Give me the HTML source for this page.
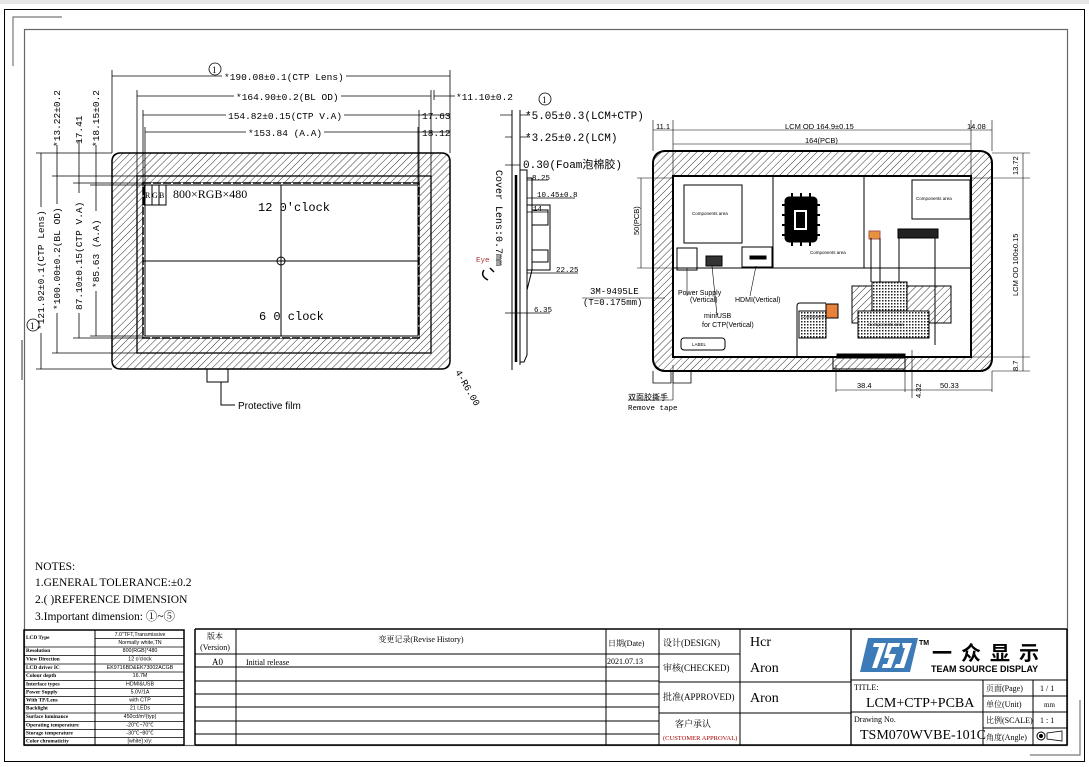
<!DOCTYPE html>
<html><head><meta charset="utf-8"><style>
body{margin:0;background:#fff;}
svg{display:block;font-family:"Liberation Mono","Noto Sans CJK SC",monospace;}
.s{font-family:"Liberation Serif","Noto Serif CJK SC",serif;}
.a{font-family:"Liberation Sans","Noto Sans CJK SC",sans-serif;}
</style></head><body>
<svg width="1089" height="767" viewBox="0 0 1089 767" xmlns="http://www.w3.org/2000/svg">
<defs>
<pattern id="h" width="5" height="5" patternUnits="userSpaceOnUse" patternTransform="rotate(45)"><line x1="0" y1="0" x2="0" y2="5" stroke="#333" stroke-width="1"/></pattern>
<pattern id="x" width="3" height="3" patternUnits="userSpaceOnUse"><rect width="3" height="3" fill="#fff"/><rect width="1.5" height="1.5" fill="#222"/></pattern>
</defs>
<rect x="0" y="0" width="1089" height="4" fill="#e6e6e6"/>
<rect x="4.5" y="9.5" width="1080" height="752" fill="none" stroke="#000" stroke-width="1"/>
<path d="M13 66V17H62" fill="none" stroke="#777" stroke-width="1.2"/>
<path d="M1080 700V755H1030" fill="none" stroke="#777" stroke-width="1.2"/>
<rect x="24.5" y="29.5" width="1043" height="716" fill="none" stroke="#666" stroke-width="1.2"/>

<!-- ===== Front view ===== -->
<g stroke="#000" fill="none" stroke-width="1">
<path fill-rule="evenodd" fill="url(#h)" d="M120 153H442Q450 153 450 161V361Q450 369 442 369H120Q112 369 112 361V161Q112 153 120 153Z M143 183H419V338H143Z"/>
<rect x="112" y="153" width="338" height="216" rx="8" stroke-width="1.5"/>
<rect x="137" y="176" width="294" height="177" stroke-width="1.3"/>
<rect x="143" y="183" width="276" height="155" fill="#fff" stroke-width="1.5" stroke-dasharray="8 2"/>
<rect x="145" y="185" width="273" height="151" stroke-width="1"/>
<line x1="281" y1="185" x2="281" y2="336"/><line x1="143" y1="261" x2="419" y2="261"/>
<circle cx="281" cy="261" r="4"/>
<rect x="144" y="185" width="8" height="20"/><rect x="152" y="185" width="7" height="20"/><rect x="159" y="185" width="7" height="20"/>
<path d="M207 369V382H228V369"/><path d="M221 382V405H235"/>
<g stroke-width="0.8">
<line x1="112" y1="70" x2="112" y2="153"/><line x1="450" y1="70" x2="450" y2="153"/>
<line x1="112" y1="76" x2="222" y2="76"/><line x1="346" y1="76" x2="450" y2="76"/>
<line x1="137" y1="90" x2="137" y2="176"/><line x1="431" y1="90" x2="431" y2="176"/><line x1="434" y1="90" x2="434" y2="100"/>
<line x1="137" y1="96" x2="234" y2="96"/><line x1="341" y1="96" x2="431" y2="96"/><line x1="434" y1="96" x2="455" y2="96"/>
<line x1="143" y1="110" x2="143" y2="183"/><line x1="419" y1="110" x2="419" y2="183"/>
<line x1="143" y1="115" x2="226" y2="115"/><line x1="344" y1="115" x2="419" y2="115"/><line x1="419" y1="115" x2="450" y2="115"/>
<line x1="145" y1="127" x2="145" y2="185"/><line x1="418" y1="127" x2="418" y2="185"/>
<line x1="145" y1="132" x2="246" y2="132"/><line x1="324" y1="132" x2="418" y2="132"/><line x1="418" y1="132" x2="450" y2="132"/>
<line x1="36" y1="153" x2="112" y2="153"/><line x1="36" y1="369" x2="112" y2="369"/>
<line x1="52" y1="176" x2="137" y2="176"/><line x1="52" y1="353" x2="137" y2="353"/>
<line x1="73" y1="183" x2="143" y2="183"/><line x1="73" y1="338" x2="143" y2="338"/>
<line x1="90" y1="185" x2="145" y2="185"/><line x1="90" y1="336" x2="145" y2="336"/>
<line x1="41" y1="153" x2="41" y2="207"/><line x1="41" y1="333" x2="41" y2="369"/>
<line x1="57" y1="145" x2="57" y2="204"/><line x1="57" y1="313" x2="57" y2="353"/>
<line x1="79" y1="140" x2="79" y2="193"/><line x1="79" y1="313" x2="79" y2="338"/>
<line x1="96" y1="145" x2="96" y2="211"/><line x1="96" y1="291" x2="96" y2="336"/>
<line x1="22" y1="340" x2="22" y2="380"/>
</g>
</g>
<circle cx="215" cy="69" r="6" fill="none" stroke="#000" stroke-width="0.8"/><text x="212" y="73" font-size="9" class="s">1</text>
<circle cx="33" cy="325" r="6" fill="none" stroke="#000" stroke-width="0.8"/><text x="30" y="329" font-size="9" class="s">1</text>
<g font-size="9.5" fill="#000">
<text x="224" y="80">*190.08±0.1(CTP Lens)</text>
<text x="236" y="100">*164.90±0.2(BL OD)</text>
<text x="228" y="119">154.82±0.15(CTP V.A)</text>
<text x="248" y="136">*153.84 (A.A)</text>
<text x="456" y="100">*11.10±0.2</text>
<text x="422" y="119">17.63</text>
<text x="422" y="136">18.12</text>
<text transform="translate(44,330) rotate(-90)">*121.92±0.1(CTP Lens)</text>
<text transform="translate(60,310) rotate(-90)">*100.00±0.2(BL OD)</text>
<text transform="translate(82,310) rotate(-90)">87.10±0.15(CTP V.A)</text>
<text transform="translate(99,288) rotate(-90)">*85.63 (A.A)</text>
<text transform="translate(60,147) rotate(-90)">*13.22±0.2</text>
<text transform="translate(82,144) rotate(-90)">17.41</text>
<text transform="translate(99,147) rotate(-90)">*18.15±0.2</text>
<text transform="translate(455,372) rotate(60)">4-R6.00</text>
</g>
<g font-size="8" class="s"><text x="145" y="198">R</text><text x="152" y="198">G</text><text x="159" y="198">B</text></g>
<text x="173" y="198" font-size="12" class="s">800×RGB×480</text>
<text x="258" y="211" font-size="12">12 0'clock</text>
<text x="259" y="320" font-size="12">6 0 clock</text>
<text x="238" y="409" font-size="10" class="a">Protective film</text>

<!-- ===== Side view ===== -->
<g stroke="#000" fill="none" stroke-width="1">
<line x1="512" y1="110" x2="512" y2="370"/>
<line x1="520" y1="110" x2="520" y2="365"/>
<line x1="516" y1="175" x2="516" y2="362" stroke-width="2.5"/>
<path d="M520 170H527V355L524 362H520"/>
<path d="M527 178H532V270L527 290"/>
<path d="M527 205H550V270H527"/>
<path d="M532 210H548V225H532"/>
<path d="M532 250H548V262H532"/>
<g stroke-width="0.7">
<line x1="500" y1="115" x2="512" y2="115"/><line x1="520" y1="115" x2="530" y2="115"/>
<line x1="505" y1="137" x2="512" y2="137"/><line x1="520" y1="137" x2="530" y2="137"/>
<line x1="505" y1="165" x2="520" y2="165"/>
<line x1="527" y1="180" x2="548" y2="180"/>
<line x1="527" y1="198" x2="575" y2="198"/>
<line x1="527" y1="212" x2="548" y2="212"/>
<line x1="527" y1="273" x2="578" y2="273"/>
<line x1="505" y1="313" x2="550" y2="313"/>
</g>
</g>
<circle cx="545" cy="99" r="6" fill="none" stroke="#000" stroke-width="0.8"/><text x="542" y="103" font-size="9" class="s">1</text>
<g font-size="11">
<text x="525" y="119">*5.05±0.3(LCM+CTP)</text>
<text x="525" y="141">*3.25±0.2(LCM)</text>
<text x="523" y="168">0.30(Foam泡棉胶)</text>
</g>
<g font-size="7.5">
<text x="532" y="180">8.25</text><text x="537" y="197">10.45±0.8</text><text x="533" y="211">14</text>
<text x="556" y="272">22.25</text><text x="534" y="312">6.35</text>
<text x="476" y="262" fill="#a33">Eye</text>
</g>
<text transform="translate(496,170) rotate(90)" font-size="10">Cover Lens:0.7mm</text>
<path d="M484 270q-4 6 4 10M490 268l4 4" stroke="#000" fill="none" stroke-width="1.5"/>

<!-- ===== Back view ===== -->
<g stroke="#000" fill="none" stroke-width="1">
<path fill-rule="evenodd" fill="url(#h)" d="M665 151H980Q992 151 992 163V359Q992 371 980 371H665Q653 371 653 359V163Q653 151 665 151Z M673 176H971V357H673Z"/>
<rect x="653" y="151" width="339" height="220" rx="12" stroke-width="2"/>
<rect x="673" y="176" width="298" height="181" stroke-width="2"/>
<line x1="673" y1="268" x2="971" y2="268"/>
<line x1="773" y1="176" x2="773" y2="268"/><line x1="864" y1="176" x2="864" y2="268"/>
<rect x="684" y="185" width="58" height="58"/>
<rect x="912" y="180" width="58" height="39"/>
<rect x="785" y="197" width="32" height="45" rx="4" fill="#000"/>
<g stroke-width="2"><line x1="782" y1="205" x2="820" y2="205"/><line x1="782" y1="215" x2="820" y2="215"/><line x1="782" y1="225" x2="820" y2="225"/><line x1="782" y1="235" x2="820" y2="235"/><line x1="792" y1="193" x2="792" y2="246"/><line x1="801" y1="193" x2="801" y2="246"/><line x1="810" y1="193" x2="810" y2="246"/></g>
<rect x="794" y="210" width="13" height="20" fill="#fff" stroke="none"/><rect x="796" y="212" width="9" height="16" fill="#000" stroke="none"/>
<rect x="898" y="229" width="40" height="9" fill="#222"/>
<rect x="869" y="231" width="11" height="8" fill="#e8923a" stroke="#a55"/>
<line x1="871" y1="238" x2="871" y2="282"/><line x1="880" y1="238" x2="880" y2="282"/>
<line x1="899" y1="238" x2="899" y2="285"/><line x1="935" y1="238" x2="935" y2="345"/>
<rect x="852" y="286" width="99" height="37" fill="url(#h)"/>
<rect x="872" y="282" width="35" height="50" fill="url(#x)"/>
<rect x="858" y="311" width="71" height="27" fill="url(#x)"/>
<rect x="799" y="311" width="27" height="27" fill="url(#x)"/>
<rect x="826" y="304" width="12" height="14" fill="#e8823a"/>
<path d="M797 357V306Q797 303 800 303H826"/>
<rect x="681" y="338" width="44" height="12" rx="3"/>
<rect x="837" y="354" width="68" height="4" fill="#000"/>
<path d="M833 357V369H905V357"/>
<rect x="677" y="248" width="20" height="22"/>
<rect x="706" y="256" width="16" height="10" fill="#333"/>
<rect x="742" y="247" width="30" height="20"/>
<rect x="750" y="256" width="16" height="3" fill="#000"/>
<g stroke-width="0.6">
<line x1="653" y1="120" x2="653" y2="151"/><line x1="673" y1="120" x2="673" y2="176"/>
<line x1="971" y1="120" x2="971" y2="176"/><line x1="992" y1="120" x2="992" y2="151"/>
<line x1="653" y1="130" x2="992" y2="130"/><line x1="673" y1="144" x2="971" y2="144"/>
<line x1="992" y1="153" x2="1030" y2="153"/><line x1="971" y1="178" x2="1030" y2="178"/>
<line x1="971" y1="357" x2="1030" y2="357"/><line x1="992" y1="371" x2="1030" y2="371"/>
<line x1="1023" y1="153" x2="1023" y2="371"/>
<line x1="637" y1="178" x2="673" y2="178"/><line x1="637" y1="268" x2="673" y2="268"/><line x1="641" y1="178" x2="641" y2="268"/>
<line x1="836" y1="365" x2="836" y2="392"/><line x1="905" y1="358" x2="905" y2="392"/><line x1="912" y1="350" x2="912" y2="398"/>
<line x1="836" y1="390" x2="992" y2="390"/><line x1="992" y1="371" x2="992" y2="392"/>
<line x1="582" y1="298" x2="665" y2="298"/>
<line x1="673" y1="365" x2="673" y2="400"/><line x1="628" y1="400" x2="673" y2="400"/>
<line x1="687" y1="268" x2="687" y2="296"/><line x1="712" y1="266" x2="717" y2="315"/><line x1="756" y1="266" x2="750" y2="296"/>
</g>
<path d="M653 371V383H671V371M673 371V383H691V371" stroke-width="0.8"/>
</g>
<g font-size="7.5" class="a">
<text x="656" y="129">11.1</text><text x="967" y="129">14.08</text>
<text x="785" y="129">LCM OD 164.9±0.15</text>
<text x="805" y="143">164(PCB)</text>
<text x="857" y="388">38.4</text><text x="940" y="388">50.33</text>
<text transform="translate(639,235) rotate(-90)">50(PCB)</text>
<text transform="translate(1018,175) rotate(-90)">13.72</text>
<text transform="translate(1018,296) rotate(-90)">LCM OD 100±0.15</text>
<text transform="translate(1018,371) rotate(-90)">8.7</text>
<text transform="translate(921,398) rotate(-90)">4.32</text>
</g>
<g font-size="4.5" class="a">
<text x="692" y="215">Components area</text><text x="810" y="254">Components area</text>
<text x="916" y="200">Components area</text><text x="868" y="326">Components area</text>
<text x="801" y="318">Components</text><text x="692" y="346">LABEL</text>
</g>
<g font-size="7" class="a">
<text x="678" y="295">Power Supply</text><text x="690" y="302">(Vertical)</text>
<text x="704" y="318">miniUSB</text><text x="702" y="327">for CTP(Vertical)</text>
<text x="735" y="302">HDMI(Vertical)</text>
</g>
<text x="590" y="294" font-size="9">3M-9495LE</text>
<text x="583" y="305" font-size="9">(T=0.175mm)</text>
<text x="628" y="400" font-size="8" class="a">双面胶撕手</text>
<text x="628" y="410" font-size="7.5">Remove tape</text>

<!-- ===== Notes ===== -->
<g font-size="11.5" class="s">
<text x="35" y="570">NOTES:</text>
<text x="35" y="586">1.GENERAL TOLERANCE:±0.2</text>
<text x="35" y="603">2.(  )REFERENCE DIMENSION</text>
<text x="35" y="620">3.Important dimension: ①~⑤</text>
</g>

<!-- ===== Spec table ===== -->
<g stroke="#000" stroke-width="1" fill="none">
<rect x="24" y="630" width="160" height="115" stroke-width="1.5"/>
<line x1="95" y1="630" x2="95" y2="745"/>
</g>
<g font-size="5.3" class="s" font-weight="bold">
<text x="26" y="639">LCD Type</text>
<text x="26" y="652">Resolution</text><text x="26" y="660.5">View Direction</text><text x="26" y="669">LCD driver IC</text>
<text x="26" y="677">Colour depth</text><text x="26" y="685.5">Interface types</text><text x="26" y="693.5">Power Supply</text>
<text x="26" y="701.5">With TP/Lens</text><text x="26" y="709.5">Backlight</text><text x="26" y="718">Surface luminance</text>
<text x="26" y="726.5">Operating temperature</text><text x="26" y="734.5">Storage temperature</text><text x="26" y="742.5">Color chromaticity</text>
</g>
<g font-size="5.3" class="a" text-anchor="middle">
<text x="140" y="636">7.0"TFT,Transmissive</text><text x="140" y="644">Normally white,TN</text>
<text x="140" y="652">800(RGB)*480</text><text x="140" y="660.5">12 o'clock</text><text x="140" y="669">EK9716BD&amp;EK73002ACGB</text>
<text x="140" y="677">16.7M</text><text x="140" y="685.5">HDMI&amp;USB</text><text x="140" y="693.5">5.0V/1A</text>
<text x="140" y="701.5">with CTP</text><text x="140" y="709.5">21 LEDs</text><text x="140" y="718">450cd/m²(typ)</text>
<text x="140" y="726.5">-20℃~70℃</text><text x="140" y="734.5">-30℃~80℃</text><text x="140" y="742.5">[white] x/y:</text>
</g>
<g stroke="#000" stroke-width="0.8">
<line x1="95" y1="638.5" x2="184" y2="638.5"/>
<line x1="24" y1="647" x2="184" y2="647"/><line x1="24" y1="655.5" x2="184" y2="655.5"/><line x1="24" y1="664" x2="184" y2="664"/>
<line x1="24" y1="672" x2="184" y2="672"/><line x1="24" y1="680.5" x2="184" y2="680.5"/><line x1="24" y1="688.5" x2="184" y2="688.5"/>
<line x1="24" y1="696.5" x2="184" y2="696.5"/><line x1="24" y1="704.5" x2="184" y2="704.5"/><line x1="24" y1="713" x2="184" y2="713"/>
<line x1="24" y1="721.5" x2="184" y2="721.5"/><line x1="24" y1="729.5" x2="184" y2="729.5"/><line x1="24" y1="737.5" x2="184" y2="737.5"/>
</g>

<!-- ===== Revision + title block ===== -->
<g stroke="#000" stroke-width="1" fill="none">
<line x1="195" y1="629" x2="1067" y2="629" stroke-width="1.5"/>
<line x1="195" y1="629" x2="195" y2="745" stroke-width="1.5"/>
<line x1="195" y1="745" x2="1067" y2="745" stroke-width="1.5"/>
<line x1="1067" y1="629" x2="1067" y2="745" stroke-width="1.5"/>
<line x1="236" y1="629" x2="236" y2="745"/><line x1="606" y1="629" x2="606" y2="745"/>
<line x1="659" y1="629" x2="659" y2="745"/><line x1="740" y1="629" x2="740" y2="745"/>
<line x1="851" y1="629" x2="851" y2="745" stroke-width="1.3"/>
<line x1="195" y1="654" x2="740" y2="654"/>
<line x1="195" y1="667" x2="659" y2="667"/><line x1="195" y1="681" x2="659" y2="681"/><line x1="195" y1="694" x2="659" y2="694"/>
<line x1="195" y1="707" x2="659" y2="707"/><line x1="195" y1="721" x2="659" y2="721"/><line x1="195" y1="734" x2="659" y2="734"/>
<line x1="659" y1="682" x2="851" y2="682"/><line x1="659" y1="713" x2="851" y2="713"/>
<line x1="851" y1="680" x2="1067" y2="680"/><line x1="851" y1="712" x2="1067" y2="712"/>
<line x1="983" y1="680" x2="983" y2="745"/><line x1="1033" y1="680" x2="1033" y2="745"/>
<line x1="983" y1="696" x2="1067" y2="696"/><line x1="983" y1="728" x2="1067" y2="728"/>
</g>
<g class="s" font-size="8">
<text x="215" y="639" text-anchor="middle">版本</text><text x="215" y="650" text-anchor="middle">(Version)</text>
<text x="421" y="642" text-anchor="middle">变更记录(Revise History)</text>
<text x="608" y="646">日期(Date)</text>
<text x="212" y="665" font-size="9">A0</text>
<text x="246" y="665">Initial release</text>
<text x="607" y="664">2021.07.13</text>
<text x="663" y="646" font-size="9">设计(DESIGN)</text>
<text x="663" y="671" font-size="9">审核(CHECKED)</text>
<text x="663" y="700" font-size="9">批准(APPROVED)</text>
<text x="675" y="727" font-size="9">客户承认</text>
<text x="663" y="740" font-size="6.5" fill="#a00">(CUSTOMER APPROVAL)</text>
<text x="750" y="646" font-size="14">Hcr</text>
<text x="750" y="672" font-size="14">Aron</text>
<text x="750" y="702" font-size="14">Aron</text>
<text x="854" y="690" font-size="8">TITLE:</text>
<text x="866" y="707" font-size="14">LCM+CTP+PCBA</text>
<text x="854" y="722" font-size="8">Drawing No.</text>
<text x="860" y="739" font-size="14">TSM070WVBE-101C</text>
<text x="986" y="691" font-size="8">页面(Page)</text><text x="1040" y="691" font-size="8">1 / 1</text>
<text x="986" y="707" font-size="8">单位(Unit)</text><text x="1044" y="707" font-size="7">mm</text>
<text x="986" y="723" font-size="8">比例(SCALE)</text><text x="1040" y="723" font-size="8">1 : 1</text>
<text x="986" y="740" font-size="8">角度(Angle)</text>
</g>
<circle cx="1041" cy="736" r="4" fill="none" stroke="#000"/><circle cx="1041" cy="736" r="2" fill="#000"/>
<path d="M1047 733L1062 731V741L1047 739Z" fill="none" stroke="#000" stroke-width="0.8"/>
<path d="M868 638H918L910 672H860Z" fill="#3d7bb8"/>
<g fill="#fff"><path d="M874 643H886L877 668H872L879 647H873Z"/><path d="M888 643H900L899 647H892L889 654H896L891 668H882L883 664H887L889 658H884Z"/><path d="M902 643H912L904 668H894L896 664H900L905 648H903Z"/></g>
<text x="919" y="645" font-size="7" font-weight="bold" class="a">TM</text>
<text x="932" y="660" font-size="20" font-weight="bold" class="a" letter-spacing="9">一众显示</text>
<text x="931" y="672" font-size="9" font-weight="bold" class="a">TEAM SOURCE DISPLAY</text>
</svg>
</body></html>
